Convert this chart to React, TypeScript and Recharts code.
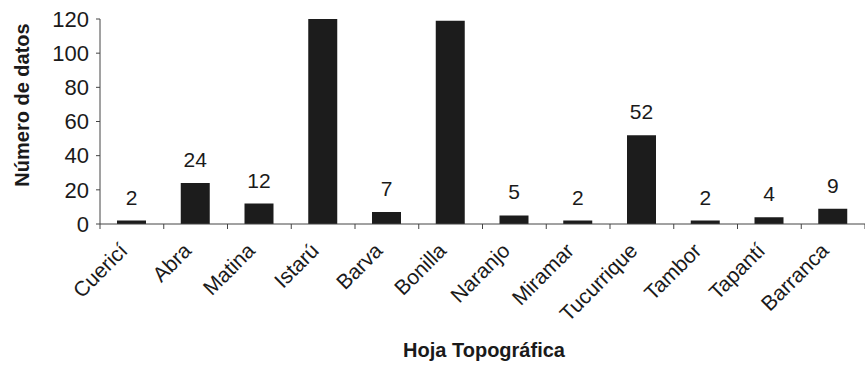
import { BarChart, Bar, XAxis, YAxis, LabelList } from "recharts";

const hojas = [
  "Cuericí",
  "Abra",
  "Matina",
  "Istarú",
  "Barva",
  "Bonilla",
  "Naranjo",
  "Miramar",
  "Tucurrique",
  "Tambor",
  "Tapantí",
  "Barranca",
];
const numDatos = [2, 24, 12, 120, 7, 119, 5, 2, 52, 2, 4, 9];
const ticksY = [0, 20, 40, 60, 80, 100, 120];
// these two bars run off the top of the axis, no value printed
const sinEtiqueta = ["Istarú", "Bonilla"];

const data = hojas.map((hoja, i) => ({ hoja, n: numDatos[i] }));

const FONT = '"Liberation Sans", Arial, sans-serif';
const INK = "#1a1a1a";
const AXIS = "#444";
const W = 865;
const H = 366;
const LEFT = 100;
const BAND = (W - LEFT) / hojas.length;

function HojaTick({ x, y, payload, index }: any) {
  const tx = x - 3;
  const ty = y + 28;
  return (
    <g>
      {index === 0 && <line x1={x - BAND / 2} y1={y} x2={x - BAND / 2} y2={y + 5} stroke={AXIS} />}
      <line x1={x + BAND / 2} y1={y} x2={x + BAND / 2} y2={y + 5} stroke={AXIS} />
      <text
        x={tx}
        y={ty}
        transform={`rotate(-45 ${tx} ${ty})`}
        textAnchor="end"
        fontSize={21}
        fill={INK}
        fontFamily={FONT}
      >
        {payload.value}
      </text>
    </g>
  );
}

function Etiqueta({ x, y, width, value, index }: any) {
  if (sinEtiqueta.includes(hojas[index])) return null;
  return (
    <text x={x + width / 2} y={y - 16} textAnchor="middle" fontSize={21} fill={INK} fontFamily={FONT}>
      {value}
    </text>
  );
}

export default function App() {
  return (
    <div style={{ position: "absolute", left: 0, top: 0, background: "#fff" }}>
      <BarChart
        width={W}
        height={H}
        data={data}
        margin={{ top: 19, right: 0, left: 0, bottom: 0 }}
        barCategoryGap={0}
        style={{ fontFamily: FONT }}
      >
        <XAxis
          dataKey="hoja"
          interval={0}
          height={142}
          tickSize={0}
          tickMargin={0}
          tickLine={false}
          axisLine={{ stroke: AXIS }}
          tick={<HojaTick />}
        />
        <YAxis
          width={LEFT}
          domain={[0, 120]}
          ticks={ticksY}
          allowDataOverflow
          tickSize={4}
          tickMargin={7}
          tickLine={{ stroke: AXIS }}
          axisLine={{ stroke: AXIS }}
          tick={{ fontSize: 22, fill: INK, fontFamily: FONT }}
        />
        <Bar dataKey="n" fill="#1c1c1c" barSize={29} isAnimationActive={false}>
          <LabelList dataKey="n" content={<Etiqueta />} />
        </Bar>
        <text
          x={22}
          y={105}
          transform="rotate(-90 22 105)"
          textAnchor="middle"
          dominantBaseline="central"
          fontSize={20}
          fontWeight="bold"
          fill={INK}
          fontFamily={FONT}
        >
          Número de datos
        </text>
        <text
          x={484}
          y={357}
          textAnchor="middle"
          fontSize={20}
          fontWeight="bold"
          fill={INK}
          fontFamily={FONT}
        >
          Hoja Topográfica
        </text>
      </BarChart>
    </div>
  );
}
